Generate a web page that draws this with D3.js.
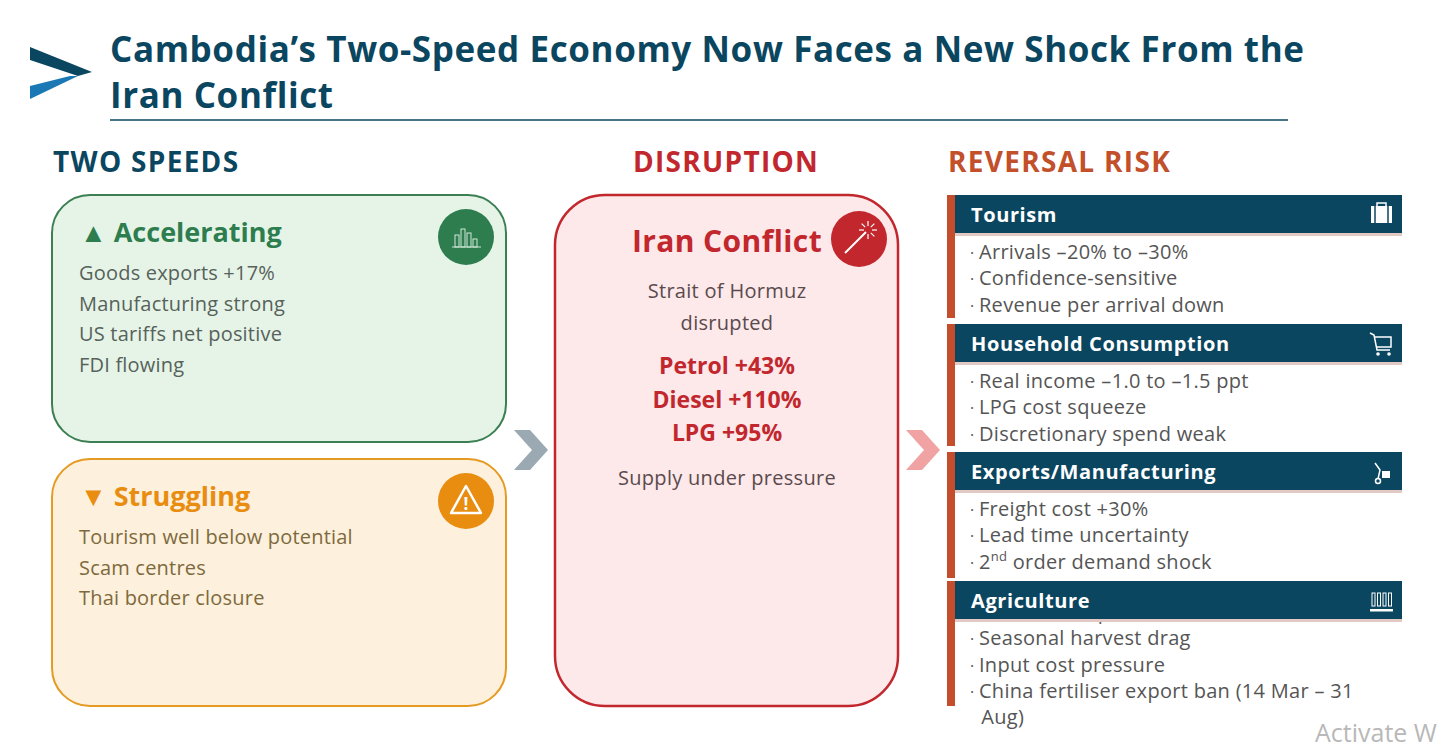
<!DOCTYPE html>
<html><head><meta charset="utf-8">
<script src="https://cdn.jsdelivr.net/npm/d3@7"></script>
<style>body{margin:0;background:#fff}svg{font-family:"Open Sans",sans-serif}</style>
</head><body><div id="chart"></div>
<script>
// content
const titleLines = ["Cambodia’s Two-Speed Economy Now Faces a New Shock From the", "Iran Conflict"];
const columnHeads = ["TWO SPEEDS", "DISRUPTION", "REVERSAL RISK"];
const accelItems = ["Goods exports +17%", "Manufacturing strong", "US tariffs net positive", "FDI flowing"];
const struggleItems = ["Tourism well below potential", "Scam centres", "Thai border closure"];
const hormuzLines = ["Strait of Hormuz", "disrupted"];
const priceShocks = ["Petrol +43%", "Diesel +110%", "LPG +95%"];
const riskHeads = ["Tourism", "Household Consumption", "Exports/Manufacturing", "Agriculture"];
const riskBullets = [
  ["Arrivals –20% to –30%", "Confidence-sensitive", "Revenue per arrival down"],
  ["Real income –1.0 to –1.5 ppt", "LPG cost squeeze", "Discretionary spend weak"],
  ["Freight cost +30%", "Lead time uncertainty", "2|nd| order demand shock"],
  ["Diesel cost spike", "Seasonal harvest drag", "Input cost pressure", "China fertiliser export ban (14 Mar – 31", "  Aug)"]
];

const W = 1455, H = 747;
const navy = "#0b4660", red = "#c1272d", green = "#2e7d4f", orange = "#e88d10";
const svg = d3.select("#chart").append("svg").attr("width", W).attr("height", H);

// logo
svg.append("path").attr("d", "M30,47 L92,72 L78,76 L30,60 Z").attr("fill", navy);
svg.append("path").attr("d", "M30,86 L70,76 L78,76 L30,99 Z").attr("fill", "#1a78b4");

// title
svg.selectAll(".title").data(titleLines).enter().append("text")
  .attr("x", 110).attr("y", (d, i) => 62 + i * 46)
  .attr("font-size", 35).attr("letter-spacing", 0.6).attr("font-weight", 700).attr("fill", navy).text(d => d);
svg.append("line").attr("x1", 110).attr("x2", 1288).attr("y1", 120).attr("y2", 120)
  .attr("stroke", navy).attr("stroke-width", 1.5);

// column heads
const headX = [53, 633, 948], headC = [navy, red, "#c2502a"];
svg.selectAll(".colhead").data(columnHeads).enter().append("text")
  .attr("x", (d, i) => headX[i]).attr("y", 172).attr("letter-spacing", 1.3)
  .attr("font-size", 28).attr("font-weight", 700).attr("fill", (d, i) => headC[i]).text(d => d);

// left boxes
function speedBox(y, fill, stroke, title, titleC, items, itemC) {
  svg.append("rect").attr("x", 52).attr("y", y).attr("width", 454).attr("height", 247)
    .attr("rx", 38).attr("fill", fill).attr("stroke", stroke).attr("stroke-width", 2);
  svg.append("circle").attr("cx", 466).attr("cy", y + 42).attr("r", 28).attr("fill", titleC);
  svg.append("text").attr("x", 80).attr("y", y + 47).attr("font-size", 27).attr("font-weight", 700)
    .attr("fill", titleC).text(title);
  svg.selectAll(null).data(items).enter().append("text")
    .attr("x", 79).attr("y", (d, i) => y + 85 + i * 30.5)
    .attr("font-size", 20).attr("letter-spacing", 0.2).attr("fill", itemC).text(d => d);
}
speedBox(195, "#e6f4e8", "#3b7f52", "▲ Accelerating", green, accelItems, "#56625a");
speedBox(459, "#fdf0dc", "#e59a22", "▼ Struggling", orange, struggleItems, "#7d6a3c");

// bar-chart icon
const bars = [12, 18, 14, 8];
bars.forEach((h, i) => svg.append("rect").attr("x", 455 + i * 6).attr("y", 247 - h)
  .attr("width", 4).attr("height", h).attr("fill", "none").attr("stroke", "#cfe8d6").attr("stroke-width", 1));
svg.append("line").attr("x1", 452).attr("x2", 481).attr("y1", 247).attr("y2", 247).attr("stroke", "#cfe8d6");
// warning icon
svg.append("path").attr("d", "M466,486 L481,513 L451,513 Z").attr("fill", "none")
  .attr("stroke", "#fff").attr("stroke-width", 2.5).attr("stroke-linejoin", "round");
svg.append("text").attr("x", 466).attr("y", 510).attr("text-anchor", "middle")
  .attr("font-size", 17).attr("font-weight", 700).attr("fill", "#fff").text("!");

// chevrons
function chevron(x, c) {
  svg.append("path").attr("d", `M${x},430 L${x + 16},430 L${x + 34},450 L${x + 16},470 L${x},470 L${x + 18},450 Z`)
    .attr("fill", c);
}
chevron(514, "#9aa9b2");
chevron(906, "#f1a2a2");

// disruption box
svg.append("rect").attr("x", 555).attr("y", 195).attr("width", 343).attr("height", 511)
  .attr("rx", 50).attr("fill", "#fde8ea").attr("stroke", red).attr("stroke-width", 2.5);
svg.append("circle").attr("cx", 859).attr("cy", 239).attr("r", 28).attr("fill", red);
svg.append("line").attr("x1", 845).attr("y1", 253).attr("x2", 866).attr("y2", 232)
  .attr("stroke", "#fff").attr("stroke-width", 2);
d3.range(8).forEach(i => {
  const a = i * Math.PI / 4;
  svg.append("line").attr("x1", 868 + 4 * Math.cos(a)).attr("y1", 230 + 4 * Math.sin(a))
    .attr("x2", 868 + 9 * Math.cos(a)).attr("y2", 230 + 9 * Math.sin(a))
    .attr("stroke", "#fff").attr("stroke-width", 1.2);
});
svg.append("text").attr("x", 727).attr("y", 252).attr("text-anchor", "middle")
  .attr("font-size", 30).attr("letter-spacing", 0.4).attr("font-weight", 700).attr("fill", red).text("Iran Conflict");
svg.selectAll(null).data(hormuzLines).enter().append("text")
  .attr("x", 727).attr("y", (d, i) => 298 + i * 32).attr("text-anchor", "middle")
  .attr("font-size", 20).attr("letter-spacing", 0.3).attr("fill", "#5a4a4c").text(d => d);
svg.selectAll(null).data(priceShocks).enter().append("text")
  .attr("x", 727).attr("y", (d, i) => 374 + i * 33.5).attr("text-anchor", "middle")
  .attr("font-size", 23).attr("font-weight", 700).attr("fill", red).text(d => d);
svg.append("text").attr("x", 727).attr("y", 485).attr("text-anchor", "middle")
  .attr("font-size", 20).attr("letter-spacing", 0.3).attr("fill", "#5a4a4c").text("Supply under pressure");

// reversal risk
const secY = [195, 324, 452, 581], secEnd = [318, 446, 578, 706];
riskHeads.forEach((h, k) => {
  const y0 = secY[k];
  svg.append("rect").attr("x", 947).attr("y", y0).attr("width", 8).attr("height", secEnd[k] - y0).attr("fill", "#c44e2b");
  const bstart = k === 3 ? y0 + 38 : y0 + 64;
  svg.selectAll(null).data(riskBullets[k]).enter().append("text")
    .attr("x", 970).attr("y", (d, i) => bstart + i * 26.3)
    .attr("font-size", 20).attr("letter-spacing", 0.3).attr("fill", "#555").each(function (d) {
      const t = d3.select(this);
      const cont = d.startsWith("  ");
      const parts = d.trim().split("|");
      t.append("tspan").text(cont ? "\u2002\u2009" : "· ").attr("font-size", 16);
      parts.forEach((p, j) => {
        const s = t.append("tspan").text(p);
        if (j === 1) s.attr("font-size", 13).attr("dy", -8);
        if (j === 2) s.attr("dy", 8);
      });
    });
  svg.append("rect").attr("x", 955).attr("y", y0).attr("width", 447).attr("height", 38).attr("fill", navy);
  svg.append("rect").attr("x", 955).attr("y", y0 + 38).attr("width", 447).attr("height", 3).attr("fill", "#e3c9c4");
  svg.append("text").attr("x", 971).attr("y", y0 + 27).attr("font-size", 20).attr("letter-spacing", 0.6)
    .attr("font-weight", 700).attr("fill", "#fff").text(h);
});
// small header icons
const ic = svg.append("g").attr("fill", "#fff").attr("stroke", "#fff");
ic.append("rect").attr("x", 1371).attr("y", 206).attr("width", 21).attr("height", 17).attr("stroke", "none");
ic.append("rect").attr("x", 1377).attr("y", 203).attr("width", 9).attr("height", 4).attr("fill", "none").attr("stroke-width", 1.5);
[1375, 1388].forEach(x => ic.append("line").attr("x1", x).attr("x2", x).attr("y1", 206).attr("y2", 223).attr("stroke", navy).attr("stroke-width", 1.5));
ic.append("path").attr("d", "M1370,333 L1374,335 L1377,350 L1390,350 M1375,337 L1391,337 L1391,347 L1376,347").attr("fill", "none").attr("stroke-width", 1.5);
ic.append("circle").attr("cx", 1378).attr("cy", 354).attr("r", 1.8).attr("stroke", "none");
ic.append("circle").attr("cx", 1389).attr("cy", 354).attr("r", 1.8).attr("stroke", "none");
ic.append("path").attr("d", "M1375,463 L1380,470 L1378,479").attr("fill", "none").attr("stroke-width", 1.5);
ic.append("circle").attr("cx", 1378).attr("cy", 481).attr("r", 2.5).attr("fill", "none").attr("stroke-width", 1.5);
ic.append("rect").attr("x", 1382).attr("y", 471).attr("width", 8).attr("height", 7).attr("stroke", "none");
ic.append("rect").attr("x", 1370).attr("y", 609).attr("width", 23).attr("height", 2.5).attr("stroke", "none");
d3.range(4).forEach(i => ic.append("rect").attr("x", 1372 + i * 5.5).attr("y", 593).attr("width", 3).attr("height", 13)
  .attr("fill", "none").attr("stroke-width", 1));

// watermark
svg.append("text").attr("x", 1315).attr("y", 742).attr("font-size", 25).attr("fill", "#b8b8b8").text("Activate W");
</script></body></html>
